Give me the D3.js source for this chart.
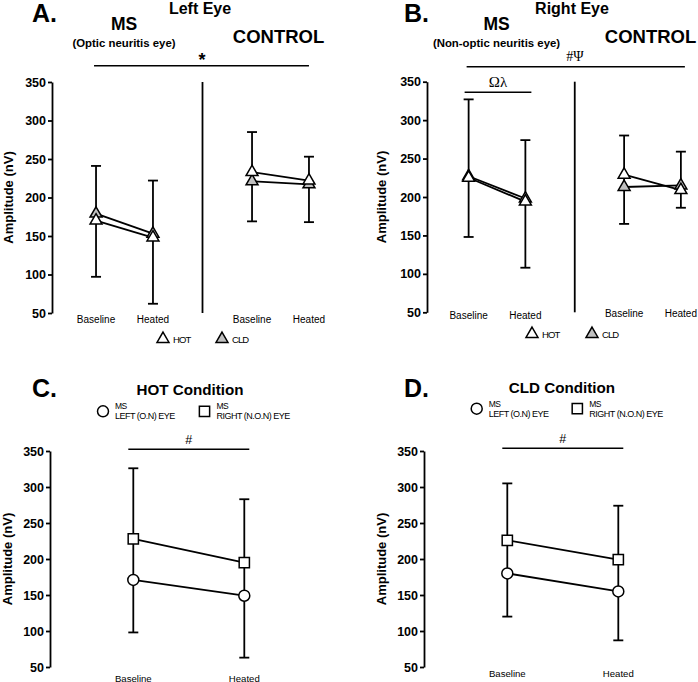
<!DOCTYPE html>
<html><head><meta charset="utf-8">
<script src="https://cdn.jsdelivr.net/npm/d3@7"></script>
<style>
body{margin:0;background:#fff}
svg{display:block}
text{font-family:"Liberation Sans",Arial,Helvetica,sans-serif;fill:#000}
</style>
</head><body>
<svg id="c" width="698" height="682"></svg>
<script>
// ---------- DATA ----------
const yTicks = [50, 100, 150, 200, 250, 300, 350];
const groups = ["MS", "CONTROL"];
const conds = ["Baseline", "Heated"];
const seriesTri = ["HOT", "CLD"];

// Panel A – Left eye (MS Baseline, MS Heated, CONTROL Baseline, CONTROL Heated)
const hotA = [170, 148, 233, 222];
const cldA = [179, 153, 221, 217];
const errHighA = [241, 222, 285, 253];
const errLowA = [97, 62, 169, 168];

// Panel B – Right eye
const hotB = [225, 194, 229, 209];
const cldB = [227, 198, 213, 215];
const errHighB = [327, 274, 280, 259];
const errLowB = [148, 108, 165, 186];

// Panel C – HOT condition (Baseline, Heated)
const leftC = [171, 149];
const rightC = [228, 195];
const errHighC = [326, 283];
const errLowC = [98, 63];

// Panel D – CLD condition
const leftD = [180, 155];
const rightD = [226, 199];
const errHighD = [305, 274];
const errLowD = [120, 87];

// ---------- DRAW ----------
const svg = d3.select("#c");
const GRAY = "#c0c0c0";
const SANS = '"Liberation Sans",Arial,Helvetica,sans-serif';
const SERIF = '"Liberation Serif","Times New Roman",serif';

function txt(g, x, y, s, size, opts = {}) {
  const t = g.append("text").attr("x", x).attr("y", y).text(s)
    .attr("font-size", size)
    .attr("font-weight", opts.bold ? "bold" : "normal")
    .attr("text-anchor", opts.anchor || "middle");
  if (opts.ls) t.attr("letter-spacing", opts.ls);
  if (opts.family) t.style("font-family", opts.family);
  return t;
}

function yAxis(g, y, axisX, labelX) {
  const ax = g.append("g").attr("transform", `translate(${axisX},0)`)
    .call(d3.axisLeft(y).tickValues(yTicks).tickSize(4).tickSizeOuter(0).tickPadding(2));
  ax.selectAll("path,line").attr("stroke", "#000").attr("stroke-width", 1.8);
  ax.selectAll("text").attr("font-size", 12.5).attr("font-weight", "bold")
    .style("font-family", SANS).attr("fill", "#000");
  const cy = (y.range()[0] + y.range()[1]) / 2;
  g.append("text").attr("transform", `translate(${labelX},${cy}) rotate(-90)`)
    .attr("text-anchor", "middle").attr("dy", "0.35em")
    .attr("font-size", 13).attr("font-weight", "bold").text("Amplitude (nV)");
}

function errBars(g, xs, y, hi, lo) {
  xs.forEach((x, i) => {
    g.append("line").attr("x1", x).attr("x2", x).attr("y1", y(hi[i])).attr("y2", y(lo[i]))
      .attr("stroke", "#000").attr("stroke-width", 1.8);
    [hi[i], lo[i]].forEach(v => g.append("line").attr("x1", x - 5).attr("x2", x + 5)
      .attr("y1", y(v)).attr("y2", y(v)).attr("stroke", "#000").attr("stroke-width", 1.8));
  });
}

function seriesLine(g, pts, x, y) {
  g.append("path").datum(pts)
    .attr("d", d3.line().x(d => x(d.i)).y(d => y(d.v)))
    .attr("fill", "none").attr("stroke", "#000").attr("stroke-width", 1.8);
}

const tri = d3.symbol().type(d3.symbolTriangle).size(62);
const circ = d3.symbol().type(d3.symbolCircle).size(95);
const sq = d3.symbol().type(d3.symbolSquare).size(105);

function marker(g, sym, x, y, fill) {
  g.append("path").attr("d", sym()).attr("transform", `translate(${x},${y})`)
    .attr("fill", fill).attr("stroke", "#000").attr("stroke-width", 1.5);
}

function triPanel(cfg) {
  const g = svg.append("g");
  const y = d3.scaleLinear().domain([50, 350]).range(cfg.yRange);
  const x0 = d3.scaleBand().domain(groups).range(cfg.bandRange);
  const xi = d3.scalePoint().domain(conds).range([0, x0.bandwidth()]).padding(0.87);
  const xPos = i => x0(groups[Math.floor(i / 2)]) + xi(conds[i % 2]);
  const xs = d3.range(4).map(xPos);

  yAxis(g, y, cfg.axisX, cfg.labelX);

  // divider
  const dx = x0("CONTROL");
  g.append("line").attr("x1", dx).attr("x2", dx).attr("y1", y(350)).attr("y2", y(50))
    .attr("stroke", "#000").attr("stroke-width", 1.8);

  errBars(g, xs, y, cfg.hi, cfg.lo);

  const data = [cfg.cld, cfg.hot];
  const fills = [GRAY, "#fff"];
  [0, 1].forEach(gi => {
    data.forEach(arr => {
      seriesLine(g, [0, 1].map(k => ({ i: gi * 2 + k, v: arr[gi * 2 + k] })), xPos, y);
    });
  });
  data.forEach((arr, s) => arr.forEach((v, i) => marker(g, tri, xs[i], y(v), fills[s])));

  // x labels
  xs.forEach((x, i) => txt(g, x, cfg.xLabY[Math.floor(i / 2)], conds[i % 2], 10));

  // titles
  const L = cfg.titles;
  txt(g, L.letterX, 22, L.letter, 25, { bold: true, anchor: "start" });
  txt(g, L.eyeX, 14, L.eye, 16, { bold: true });
  const msX = x0("MS") + x0.bandwidth() / 2;
  const ctX = x0("CONTROL") + x0.bandwidth() / 2;
  txt(g, msX - 0.5, 30, "MS", 17.5, { bold: true });
  txt(g, msX - 0.5, 47, L.sub, 11.4, { bold: true });
  txt(g, ctX - 2, 43, "CONTROL", 18.5, { bold: true });

  // significance
  cfg.sig.forEach(s => {
    const x1 = xs[s.from] - s.pad[0], x2 = xs[s.to] + s.pad[1];
    g.append("line").attr("x1", x1).attr("x2", x2).attr("y1", s.y).attr("y2", s.y)
      .attr("stroke", "#000").attr("stroke-width", 1.6);
    txt(g, s.tx !== undefined ? s.tx : (x1 + x2) / 2, s.ty, s.label, s.size,
      { bold: s.bold, family: s.family });
  });

  // legend
  seriesTri.forEach((name, s) => {
    const lx = cfg.legX[s];
    marker(g, tri, lx, cfg.legY, s === 0 ? "#fff" : GRAY);
    txt(g, lx + 10, cfg.legY + 4, name, 9.5, { anchor: "start", ls: -0.9 });
  });
  return dx;
}

triPanel({
  yRange: [313, 82], bandRange: [46.5, 358.5], axisX: 52, labelX: 8,
  hot: hotA, cld: cldA, hi: errHighA, lo: errLowA, xLabY: [323, 323],
  titles: { letter: "A.", letterX: 32, eye: "Left Eye", eyeX: 200, sub: "(Optic neuritis eye)" },
  sig: [{ from: 0, to: 3, pad: [2, 0], y: 65.7, label: "*", ty: 66, tx: 202, size: 18, bold: true }],
  legX: [163, 222], legY: 339
});

triPanel({
  yRange: [312.3, 81.7], bandRange: [419.25, 730.25], axisX: 427, labelX: 381,
  hot: hotB, cld: cldB, hi: errHighB, lo: errLowB, xLabY: [319, 317],
  titles: { letter: "B.", letterX: 404, eye: "Right Eye", eyeX: 572, sub: "(Non-optic neuritis eye)" },
  sig: [
    { from: 0, to: 3, pad: [2, 4], y: 66.7, label: "#\u03A8", ty: 61, tx: 575, size: 14, family: SERIF },
    { from: 0, to: 1, pad: [4, 6], y: 92.3, label: "\u03A9\u03BB", ty: 87, size: 15, family: SERIF }
  ],
  legX: [532, 592], legY: 334
});

function condPanel(cfg) {
  const g = svg.append("g");
  const y = d3.scaleLinear().domain([50, 350]).range([667, 451]);
  const x = d3.scalePoint().domain(conds).range(cfg.xRange);
  const xs = conds.map(c => x(c));
  yAxis(g, y, cfg.axisX, cfg.labelX);
  errBars(g, xs, y, cfg.hi, cfg.lo);
  const xp = i => xs[i];
  [cfg.left, cfg.right].forEach(arr => seriesLine(g, arr.map((v, i) => ({ i, v })), xp, y));
  cfg.left.forEach((v, i) => marker(g, circ, xs[i], y(v), "#fff"));
  cfg.right.forEach((v, i) => marker(g, sq, xs[i], y(v), "#fff"));
  xs.forEach((xx, i) => txt(g, xx, cfg.xLabY, conds[i], 9.6));

  txt(g, cfg.letterX, 397, cfg.letter, 25, { bold: true, anchor: "start" });
  txt(g, cfg.titleX, cfg.titleY, cfg.title, 15.2, { bold: true });

  // legend
  const items = [["LEFT (O.N) EYE", circ], ["RIGHT (N.O.N) EYE", sq]];
  items.forEach(([lab, sym], k) => {
    const lx = cfg.legX[k];
    marker(g, sym, lx, cfg.legY + 2, "#fff");
    txt(g, lx + 12, cfg.legY, "MS", 8.5, { anchor: "start", ls: -0.6 });
    txt(g, lx + 12, cfg.legY + 10, lab, 9, { anchor: "start", ls: -0.5 });
  });

  // significance
  const x1 = xs[0] - 5, x2 = xs[1] + 5;
  g.append("line").attr("x1", x1).attr("x2", x2).attr("y1", cfg.sigY).attr("y2", cfg.sigY)
    .attr("stroke", "#000").attr("stroke-width", 1.6);
  txt(g, (x1 + x2) / 2, cfg.sigY - 5, "#", 12.5);
}

condPanel({
  xRange: [133.3, 244.3], axisX: 50, labelX: 7, left: leftC, right: rightC,
  hi: errHighC, lo: errLowC, xLabY: 681.5, letter: "C.", letterX: 32,
  title: "HOT Condition", titleX: 190, titleY: 395, legX: [103, 204.5], legY: 409.3, sigY: 449.3
});

condPanel({
  xRange: [507.3, 618.3], axisX: 424, labelX: 381, left: leftD, right: rightD,
  hi: errHighD, lo: errLowD, xLabY: 677, letter: "D.", letterX: 404,
  title: "CLD Condition", titleX: 562, titleY: 393, legX: [476.7, 577.3], legY: 406.7, sigY: 448.3
});
</script>
</body></html>
